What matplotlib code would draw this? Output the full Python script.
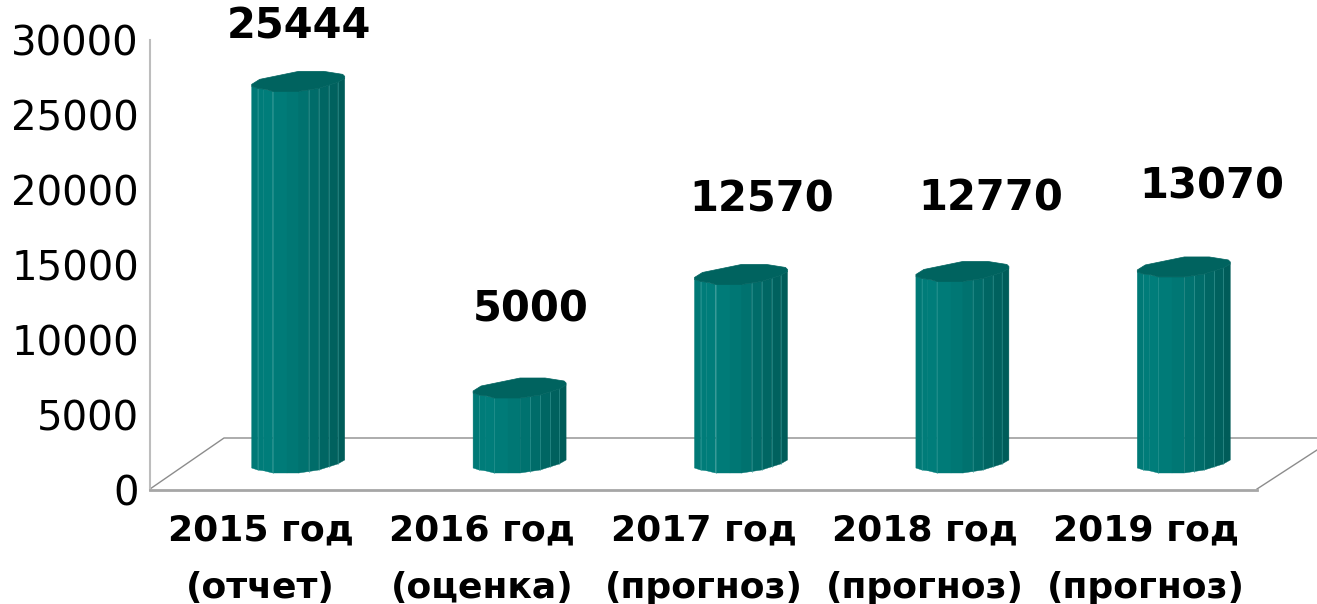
import numpy as np
import matplotlib
matplotlib.use('Agg')
import matplotlib.pyplot as plt
from matplotlib.patches import Polygon

categories = ['2015 год\n(отчет)', '2016 год\n(оценка)', '2017 год\n(прогноз)',
              '2018 год\n(прогноз)', '2019 год\n(прогноз)']
values = [25444, 5000, 12570, 12770, 13070]
y_ticks = [0, 5000, 10000, 15000, 20000, 25000, 30000]

W, H = 1317, 604
CAT_PX = 221.4
VAL_PX = 0.015

# bar outline in pixels, measured from the left edge of the front face
profile_x = [0, 6, 14, 21, 47, 67, 86, 93]
profile_up = [5, 3, 2, 0, 0, 3, 9, 13]
strip_x = [0, 6, 12, 21, 35, 47, 57, 67, 77, 86, 93]
strip_colors = ['#007976', '#007c79', '#007d7a', '#007b78', '#007774',
                '#00726f', '#006c69', '#006663', '#00615e', '#005c59']
edge_x = [6, 21, 57, 67, 77, 86]
top_back = [(93, 15), (91, 17), (72, 20), (47, 20), (8, 12), (0, 7)]
label_dy = [65, 88, 85, 83, 90]
label_dx = [38, 49, 58, 66, 66]


def main():
    fig = plt.figure(figsize=(W / 100, H / 100), dpi=100)
    ax = fig.add_axes([150 / W, 1 - 490 / H, 1107 / W, 450 / H])
    ax.patch.set_alpha(0)
    ax.set_xlim(-0.5, 4.5)
    ax.set_ylim(0, 30000)

    ax.spines['top'].set_visible(False)
    ax.spines['right'].set_visible(False)
    ax.spines['left'].set_color('#bdbdbd')
    ax.spines['left'].set_linewidth(1.5)
    ax.spines['bottom'].set_color('#a6a6a6')
    ax.spines['bottom'].set_linewidth(2)

    ax.set_yticks(y_ticks)
    ax.set_xticks(range(len(categories)))
    ax.set_xticklabels(categories, fontsize=26, fontweight='bold', linespacing=1.87)
    ax.tick_params(axis='y', length=0, pad=8, labelsize=29)
    ax.tick_params(axis='x', length=0, pad=17)

    # floor of the 3d box
    floor = [([150, 224, 1317], [489, 438, 438]), ([1257, 1317], [489, 450])]
    for xs, ys in floor:
        ax.plot(np.array(xs) / W, 1 - np.array(ys) / H, color='#8c8c8c', lw=1,
                transform=fig.transFigure, clip_on=False, zorder=1)

    base = 17 / VAL_PX
    for i, value in enumerate(values):
        left = i - 9 / CAT_PX

        def to_x(px):
            return left + np.asarray(px, dtype=float) / CAT_PX

        for j, color in enumerate(strip_colors):
            sx = np.array(strip_x[j:j + 2], dtype=float)
            up = np.interp(sx, profile_x, profile_up) / VAL_PX
            pts = [(to_x(sx[0]), base + up[0]), (to_x(sx[1]), base + up[1]),
                   (to_x(sx[1]), base + value + up[1]), (to_x(sx[0]), base + value + up[0])]
            ax.add_patch(Polygon(pts, closed=True, facecolor=color, edgecolor=color,
                                 lw=0.3, zorder=3))
        for ex in edge_x:
            up = np.interp(ex, profile_x, profile_up) / VAL_PX
            ax.plot([to_x(ex)] * 2, [base + up, base + value + up], color='#3b9f9c',
                    lw=0.5, alpha=0.7, zorder=4)

        front = [(to_x(x), base + value + u / VAL_PX) for x, u in zip(profile_x, profile_up)]
        back = [(to_x(x), base + value + u / VAL_PX) for x, u in top_back]
        ax.add_patch(Polygon(front + back, closed=True, facecolor='#00635f',
                             edgecolor='#00635f', lw=0.5, zorder=5))

        ax.annotate(str(value), xy=(i, base + value), xytext=(label_dx[i] * 0.72, label_dy[i] * 0.72),
                    textcoords='offset points', ha='center', va='center',
                    fontsize=30, fontweight='bold', color='black',
                    annotation_clip=False, zorder=6)

    fig.savefig('out.png', dpi=100)


if __name__ == '__main__':
    main()
